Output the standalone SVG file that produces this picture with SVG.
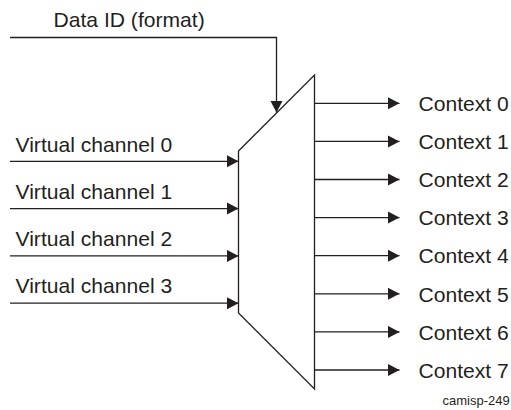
<svg xmlns="http://www.w3.org/2000/svg" width="511" height="410" viewBox="0 0 511 410">
<defs>
<style>
.ln{fill:none;stroke:#231f20;stroke-width:1.3}
.t{font-family:"Liberation Sans",Arial,sans-serif;font-size:21.1px;fill:#231f20}
.s{font-family:"Liberation Sans",Arial,sans-serif;font-size:13px;fill:#231f20}
</style>
<marker id="ah" markerUnits="userSpaceOnUse" markerWidth="13" markerHeight="13" refX="12" refY="6.25" orient="auto" viewBox="0 0 13 13">
<path d="M0,0 L12,6.25 L0,12.5 Z" fill="#231f20"/>
</marker>
</defs>
<rect width="511" height="410" fill="#fff"/>
<g id="connectors">
<path class="ln" d="M10,37.5 H276.5 V112.5" marker-end="url(#ah)"/>
<line class="ln" x1="10" y1="161.3" x2="238.5" y2="161.3" marker-end="url(#ah)"/>
<line class="ln" x1="10" y1="208.6" x2="238.5" y2="208.6" marker-end="url(#ah)"/>
<line class="ln" x1="10" y1="255.9" x2="238.5" y2="255.9" marker-end="url(#ah)"/>
<line class="ln" x1="10" y1="303.2" x2="238.5" y2="303.2" marker-end="url(#ah)"/>
<line class="ln" x1="314.5" y1="103.3" x2="399.5" y2="103.3" marker-end="url(#ah)"/>
<line class="ln" x1="314.5" y1="141.4" x2="399.5" y2="141.4" marker-end="url(#ah)"/>
<line class="ln" x1="314.5" y1="179.5" x2="399.5" y2="179.5" marker-end="url(#ah)"/>
<line class="ln" x1="314.5" y1="217.6" x2="399.5" y2="217.6" marker-end="url(#ah)"/>
<line class="ln" x1="314.5" y1="255.7" x2="399.5" y2="255.7" marker-end="url(#ah)"/>
<line class="ln" x1="314.5" y1="293.8" x2="399.5" y2="293.8" marker-end="url(#ah)"/>
<line class="ln" x1="314.5" y1="331.9" x2="399.5" y2="331.9" marker-end="url(#ah)"/>
<line class="ln" x1="314.5" y1="370" x2="399.5" y2="370" marker-end="url(#ah)"/>
</g>
<g id="mux">
<polygon class="ln" points="238.5,151 314.5,75 314.5,389 238.5,313"/>
</g>
<g id="data-id"><text class="t" x="53.5" y="26.7">Data ID (format)</text></g>
<g id="vc0"><text class="t" x="15.5" y="151.5">Virtual channel 0</text></g>
<g id="vc1"><text class="t" x="15.5" y="198.6">Virtual channel 1</text></g>
<g id="vc2"><text class="t" x="15.5" y="245.7">Virtual channel 2</text></g>
<g id="vc3"><text class="t" x="15.5" y="293">Virtual channel 3</text></g>
<g id="ctx0"><text class="t" x="418.5" y="111">Context 0</text></g>
<g id="ctx1"><text class="t" x="418.5" y="149.1">Context 1</text></g>
<g id="ctx2"><text class="t" x="418.5" y="187.2">Context 2</text></g>
<g id="ctx3"><text class="t" x="418.5" y="225.3">Context 3</text></g>
<g id="ctx4"><text class="t" x="418.5" y="263.4">Context 4</text></g>
<g id="ctx5"><text class="t" x="418.5" y="301.5">Context 5</text></g>
<g id="ctx6"><text class="t" x="418.5" y="339.6">Context 6</text></g>
<g id="ctx7"><text class="t" x="418.5" y="377.7">Context 7</text></g>
<g id="ref"><text class="s" x="442.5" y="405">camisp-249</text></g>
</svg>
